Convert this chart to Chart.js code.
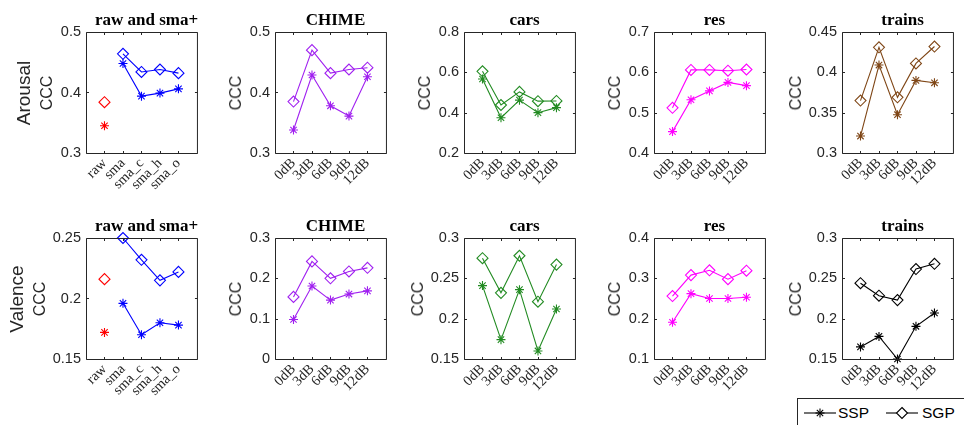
<!DOCTYPE html>
<html><head><meta charset="utf-8">
<script src="https://cdn.jsdelivr.net/npm/chart.js@4.4.1/dist/chart.umd.min.js"></script>
<style>
html,body{margin:0;padding:0;background:#fff;width:964px;height:425px;overflow:hidden;position:relative;}
canvas{position:absolute;}
.t{position:absolute;font-family:'Liberation Serif','Times New Roman',serif;font-weight:bold;font-size:17px;color:#000;text-align:center;white-space:nowrap;line-height:18px;transform:translateX(-50%);}
.yl{position:absolute;font-family:'Liberation Sans',Arial,sans-serif;color:#262626;white-space:nowrap;line-height:1;transform:translate(-50%,-50%) rotate(-90deg);}
#legend{position:absolute;left:797px;top:398px;width:200px;height:40px;border:1px solid #262626;background:#fff;}
#legend span{position:absolute;top:5px;font-family:'Liberation Sans',Arial,sans-serif;font-size:15.5px;color:#000;line-height:18px;}
#legend svg{position:absolute;top:4px;}
</style></head><body>
<script>
// ---------------- DATA ----------------
const smaCats   = ['raw', 'sma', 'sma_c', 'sma_h', 'sma_o'];
const noiseCats = ['0dB', '3dB', '6dB', '9dB', '12dB'];
const panelTitles = ['raw and sma+', 'CHIME', 'cars', 'res', 'trains'];
const rowNames = ['Arousal', 'Valence'];
const seriesNames = ['SSP', 'SGP'];

// Arousal (first value of the sma arrays is "raw")
const arousalSmaSSP    = [0.345, 0.448, 0.394, 0.399, 0.406];
const arousalSmaSGP    = [0.384, 0.464, 0.434, 0.438, 0.432];
const arousalChimeSSP  = [0.338, 0.429, 0.378, 0.361, 0.426];
const arousalChimeSGP  = [0.385, 0.470, 0.432, 0.438, 0.441];
const arousalCarsSSP   = [0.567, 0.375, 0.462, 0.400, 0.425];
const arousalCarsSGP   = [0.605, 0.438, 0.503, 0.457, 0.458];
const arousalResSSP    = [0.453, 0.532, 0.554, 0.575, 0.567];
const arousalResSGP    = [0.512, 0.606, 0.606, 0.604, 0.607];
const arousalTrainsSSP = [0.321, 0.409, 0.3475, 0.390, 0.387];
const arousalTrainsSGP = [0.365, 0.431, 0.369, 0.411, 0.432];

// Valence
const valenceSmaSSP    = [0.172, 0.196, 0.170, 0.180, 0.178];
const valenceSmaSGP    = [0.216, 0.250, 0.232, 0.215, 0.222];
const valenceChimeSSP  = [0.098, 0.181, 0.146, 0.161, 0.169];
const valenceChimeSGP  = [0.154, 0.242, 0.200, 0.217, 0.226];
const valenceCarsSSP   = [0.241, 0.174, 0.236, 0.160, 0.212];
const valenceCarsSGP   = [0.275, 0.232, 0.278, 0.221, 0.267];
const valenceResSSP    = [0.191, 0.262, 0.250, 0.250, 0.253];
const valenceResSGP    = [0.256, 0.308, 0.320, 0.298, 0.319];
const valenceTrainsSSP = [0.165, 0.178, 0.150, 0.1905, 0.207];
const valenceTrainsSGP = [0.244, 0.2285, 0.223, 0.2615, 0.268];

// Y axis limits / ticks per panel
const arousalYMin  = [0.3, 0.3, 0.2, 0.4, 0.3];
const arousalYMax  = [0.5, 0.5, 0.8, 0.7, 0.45];
const arousalYStep = [0.1, 0.1, 0.2, 0.1, 0.05];
const valenceYMin  = [0.15, 0.0, 0.15, 0.1, 0.15];
const valenceYMax  = [0.25, 0.3, 0.3, 0.4, 0.3];
const valenceYStep = [0.05, 0.1, 0.05, 0.1, 0.05];

// ---------------- STYLE / LAYOUT ----------------
const rawColor = '#ff0000';
const arousalColors = ['#0000ff', '#a020f0', '#228b22', '#ff00ff', '#7f4616'];
const valenceColors = ['#0000ff', '#a020f0', '#228b22', '#ff00ff', '#000000'];
const colLefts = [86, 275, 464, 654, 842];
const rowTops = [32, 238];
const PW = 121, PH = 121;
const PADL = 60, PADT = 14, PADB = 60, PADR = 4;

const rows = [
  { name: rowNames[0], ssp: [arousalSmaSSP, arousalChimeSSP, arousalCarsSSP, arousalResSSP, arousalTrainsSSP],
    sgp: [arousalSmaSGP, arousalChimeSGP, arousalCarsSGP, arousalResSGP, arousalTrainsSGP],
    ymin: arousalYMin, ymax: arousalYMax, ystep: arousalYStep, colors: arousalColors },
  { name: rowNames[1], ssp: [valenceSmaSSP, valenceChimeSSP, valenceCarsSSP, valenceResSSP, valenceTrainsSSP],
    sgp: [valenceSmaSGP, valenceChimeSGP, valenceCarsSGP, valenceResSGP, valenceTrainsSGP],
    ymin: valenceYMin, ymax: valenceYMax, ystep: valenceYStep, colors: valenceColors }
];

const boxPlugin = {
  id: 'mbox',
  afterDatasetsDraw(chart) {
    const ctx = chart.ctx, a = chart.chartArea;
    const xs = chart.scales.x, ys = chart.scales.y;
    ctx.save();
    ctx.strokeStyle = '#262626';
    ctx.lineWidth = 1;
    ctx.beginPath();
    const L = a.left + 0.5, T = a.top + 0.5, R = a.right + 0.5, B = a.bottom + 0.5;
    ctx.rect(L, T, R - L, B - T);
    const tl = 2.5;
    ys.ticks.forEach(t => {
      const y = Math.round(ys.getPixelForValue(t.value)) + 0.5;
      ctx.moveTo(L, y); ctx.lineTo(L + tl, y);
      ctx.moveTo(R, y); ctx.lineTo(R - tl, y);
    });
    xs.ticks.forEach(t => {
      if (t.value < 1 || t.value > 5) return;
      const x = Math.round(xs.getPixelForValue(t.value)) + 0.5;
      ctx.moveTo(x, B); ctx.lineTo(x, B - tl);
      ctx.moveTo(x, T); ctx.lineTo(x, T + tl);
    });
    ctx.stroke();
    ctx.restore();
  }
};

function mkds(label, xs, ys, color, style, line) {
  return {
    label, data: xs.map((x, i) => ({ x, y: ys[i] })),
    borderColor: color, backgroundColor: 'rgba(0,0,0,0)',
    pointBorderColor: color, pointBackgroundColor: 'rgba(0,0,0,0)',
    pointStyle: style, pointRadius: style === 'star' ? 4.5 : 5.5,
    pointBorderWidth: 1.1, borderWidth: 1.1, showLine: line, clip: false, tension: 0
  };
}

function addDiv(cls, text, styles) {
  const d = document.createElement('div');
  d.className = cls; d.textContent = text;
  Object.assign(d.style, styles);
  document.body.appendChild(d);
  return d;
}

const fmt = v => String(Math.round(v * 1000) / 1000);

rows.forEach((row, r) => {
  for (let c = 0; c < 5; c++) {
    const L = colLefts[c], T = rowTops[r];
    const cv = document.createElement('canvas');
    cv.width = PADL + PW + PADR; cv.height = PADT + PH + PADB;
    cv.style.left = (L - PADL) + 'px'; cv.style.top = (T - PADT) + 'px';
    document.body.appendChild(cv);
    const cats = c === 0 ? smaCats : noiseCats;
    const color = row.colors[c];
    let datasets;
    if (c === 0) {
      datasets = [
        mkds('raw ' + seriesNames[0], [1], [row.ssp[0][0]], rawColor, 'star', false),
        mkds('raw ' + seriesNames[1], [1], [row.sgp[0][0]], rawColor, 'rectRot', false),
        mkds(seriesNames[0], [2, 3, 4, 5], row.ssp[0].slice(1), color, 'star', true),
        mkds(seriesNames[1], [2, 3, 4, 5], row.sgp[0].slice(1), color, 'rectRot', true)
      ];
    } else {
      datasets = [
        mkds(seriesNames[0], [1, 2, 3, 4, 5], row.ssp[c], color, 'star', true),
        mkds(seriesNames[1], [1, 2, 3, 4, 5], row.sgp[c], color, 'rectRot', true)
      ];
    }
    new Chart(cv, {
      type: 'scatter',
      data: { datasets },
      options: {
        responsive: false, animation: false, devicePixelRatio: 1,
        layout: { padding: { top: PADT, right: PADR, left: 0, bottom: 0 } },
        plugins: { legend: { display: false }, tooltip: { enabled: false }, title: { display: false } },
        scales: {
          x: {
            type: 'linear', min: 0, max: 6,
            afterFit: s => { s.height = PADB; },
            grid: { display: false, drawTicks: false }, border: { display: false },
            ticks: {
              stepSize: 1, autoSkip: false, maxRotation: 45, minRotation: 45, padding: 2,
              color: '#262626', font: { family: "'Liberation Serif','Times New Roman',serif", size: 14.2 },
              callback: v => (v >= 1 && v <= 5 ? cats[v - 1] : '')
            }
          },
          y: {
            type: 'linear', min: row.ymin[c], max: row.ymax[c],
            afterFit: s => { s.width = PADL; },
            grid: { display: false, drawTicks: false }, border: { display: false },
            ticks: {
              stepSize: row.ystep[c], padding: 5, color: '#262626',
              font: { family: "'Liberation Sans',Arial,sans-serif", size: 14.5 },
              callback: v => fmt(v)
            }
          }
        }
      },
      plugins: [boxPlugin]
    });

    // title
    addDiv('t', panelTitles[c], { left: (L + PW / 2) + 'px', top: (T - 21) + 'px' });
    // y-axis title
    const longest = Math.max(...[row.ymin[c], row.ymax[c]].map(v => fmt(v).length), fmt(row.ymin[c] + row.ystep[c]).length);
    const off = longest >= 4 ? 46.5 : 39;
    addDiv('yl', 'CCC', { left: (L - off) + 'px', top: (T + PH / 2) + 'px', fontSize: '16px' });
    if (c === 0) {
      addDiv('yl', row.name, { left: (L - off - 24) + 'px', top: (T + PH / 2) + 'px', fontSize: '19px' });
    }
  }
});

// legend
const lg = document.createElement('div');
lg.id = 'legend';
lg.innerHTML =
  '<svg width="34" height="20" style="left:5px"><line x1="1" y1="10" x2="33" y2="10" stroke="#000" stroke-width="1.1"/>' +
  '<g stroke="#000" stroke-width="1.1"><line x1="12.5" y1="10" x2="21.5" y2="10"/><line x1="17" y1="5.5" x2="17" y2="14.5"/><line x1="13.8" y1="6.8" x2="20.2" y2="13.2"/><line x1="13.8" y1="13.2" x2="20.2" y2="6.8"/></g></svg>' +
  '<span style="left:40px">' + seriesNames[0] + '</span>' +
  '<svg width="34" height="20" style="left:87px"><line x1="1" y1="10" x2="33" y2="10" stroke="#000" stroke-width="1.1"/>' +
  '<polygon points="17,4.5 22.5,10 17,15.5 11.5,10" fill="#fff" stroke="#000" stroke-width="1.1"/></svg>' +
  '<span style="left:124px">' + seriesNames[1] + '</span>';
document.body.appendChild(lg);
</script>
</body></html>
